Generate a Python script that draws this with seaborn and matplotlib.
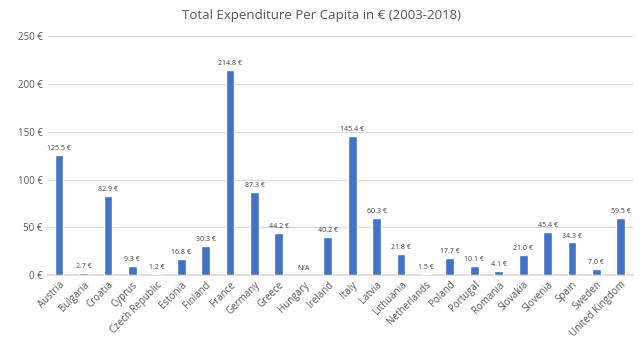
import matplotlib
matplotlib.use("Agg")
import matplotlib.pyplot as plt
import seaborn as sns
import pandas as pd
import numpy as np

countries = ["Austria", "Bulgaria", "Croatia", "Cyprus", "Czech Republic", "Estonia",
             "Finland", "France", "Germany", "Greece", "Hungary", "Ireland", "Italy",
             "Latvia", "Lithuania", "Netherlands", "Poland", "Portugal", "Romania",
             "Slovakia", "Slovenia", "Spain", "Sweden", "United Kingdom"]
values = [125.5, 2.7, 82.9, 9.3, 1.2, 16.8, 30.3, 214.8, 87.3, 44.2, np.nan, 40.2, 145.4,
          60.3, 21.8, 1.5, 17.7, 10.1, 4.1, 21.0, 45.4, 34.3, 7.0, 59.5]
yticks = [0, 50, 100, 150, 200, 250]
title = "Total Expenditure Per Capita in € (2003-2018)"

sns.set_theme(style="white")
plt.rcParams['font.family'] = ['Open Sans', 'DejaVu Sans']

df = pd.DataFrame({"country": countries, "value": values})

fig = plt.figure(figsize=(6.42, 3.44), dpi=100)
ax = fig.add_axes([0.073, 0.20, 0.913, 0.695])
sns.barplot(data=df, x="country", y="value", color="#4472C4", width=0.36,
            saturation=1, ax=ax, zorder=3)

ax.set_ylim(0, 250)
ax.set_yticks(yticks)
ax.set_yticklabels([f"{v} €" for v in yticks], fontsize=7, color="#595959")
ax.yaxis.grid(True, color="#D9D9D9", linewidth=0.8, zorder=0)
ax.set_axisbelow(True)
for s in ["top", "right", "left"]:
    ax.spines[s].set_visible(False)
ax.spines["bottom"].set_color("#D9D9D9")
ax.tick_params(axis="both", length=0, pad=3)
ax.set_xticks(range(len(countries)))
ax.set_xticklabels(countries, rotation=45, ha="right", rotation_mode="anchor",
                   fontsize=7, color="#595959")
ax.set_xlabel("")
ax.set_ylabel("")
ax.set_xlim(-0.5, len(countries) - 0.5)

for i, v in enumerate(values):
    if np.isnan(v):
        ax.text(i, 3, "N/A", ha="center", va="bottom", fontsize=5, color="#404040")
    else:
        ax.text(i, v + 3, f"{v:.1f} €", ha="center", va="bottom", fontsize=5,
                color="#404040")

fig.suptitle(title, x=0.5, y=0.975, fontsize=9.5, color="#595959")
fig.savefig("out.png", dpi=100, facecolor="white")
